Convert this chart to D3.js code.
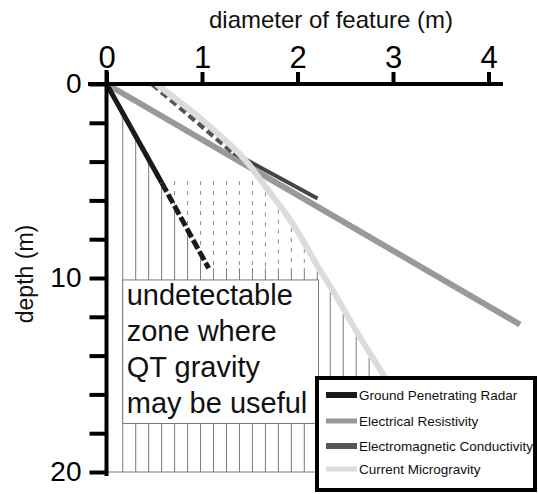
<!DOCTYPE html>
<html>
<head>
<meta charset="utf-8">
<script src="https://cdn.jsdelivr.net/npm/d3@7"></script>
<style>
  html, body { margin: 0; padding: 0; background: #fff; }
  svg { display: block; font-family: "Liberation Sans", Arial, Helvetica, sans-serif; }
</style>
</head>
<body>
<svg id="chart" width="538" height="494"></svg>
<script>
// ---------- data ----------
const xTickValues = [0, 1, 2, 3, 4];
const yTickValues = [0, 2, 4, 6, 8, 10, 12, 14, 16, 18, 20];
const yTickLabels = [0, 10, 20];

const gprSolid  = [[0, 0], [0.58, 5.1]];
const gprDashed = [[0.58, 5.1], [1.07, 9.5]];
const erLine    = [[0, 0], [4.33, 12.4]];
const emDashed  = [[0.48, 0], [1.33, 3.55]];
const emSolid   = [[1.33, 3.55], [2.21, 5.9]];
const mgLine    = [[0.52, 0], [1.0, 1.85], [1.45, 3.9], [1.65, 5.2], [1.85, 6.5], [2.0, 7.6],
                   [2.2, 9.3], [2.4, 10.9], [2.6, 12.6], [2.9, 15.0], [3.1, 16.6]];

const legendLabels = ["Ground Penetrating Radar", "Electrical Resistivity",
                      "Electromagnetic Conductivity", "Current Microgravity"];
const boxLines = ["undetectable", "zone where", "QT gravity", "may be useful"];

// hatch zone (data units)
const hatchStart = 0.17, hatchStep = 0.1358, hatchCount = 20;
const dashZoneTop = 5.0, dashZoneBottom = 9.5, hatchBottom = 20;
const boxX = [0.17, 2.22], boxDepth = [10.1, 17.5];

// ---------- setup ----------
const svg = d3.select("#chart");
const x = d3.scaleLinear().domain([0, 4]).range([106.5, 488.5]);
const y = d3.scaleLinear().domain([0, 20]).range([84, 472]);
const line = d3.line().x(d => x(d[0])).y(d => y(d[1]));
const curve = d3.line().x(d => x(d[0])).y(d => y(d[1])).curve(d3.curveCatmullRom);

function interp(pts, xv) {
  for (let i = 0; i < pts.length - 1; i++) {
    const a = pts[i], b = pts[i + 1];
    if (xv >= a[0] && xv <= b[0]) return a[1] + (xv - a[0]) / (b[0] - a[0]) * (b[1] - a[1]);
  }
  return null;
}
const gprAll = [gprSolid[0], gprSolid[1], gprDashed[1]];
const gprEndX = gprDashed[1][0], gprSolidEndX = gprSolid[1][0];

// ---------- hatch ----------
const hatch = svg.append("g");
const hatchXs = d3.range(hatchCount).map(i => hatchStart + i * hatchStep);
hatchXs.forEach(hx => {
  const segs = []; // [from, to, dashed]
  if (hx <= gprSolidEndX) {
    segs.push([interp(gprAll, hx), hatchBottom, false]);
  } else if (hx <= gprEndX) {
    const g = interp(gprAll, hx);
    segs.push([dashZoneTop, g, true]);
    segs.push([g, hatchBottom, false]);
  } else {
    const top = Math.max(dashZoneTop, interp(mgLine, hx) + 0.3);
    if (top < dashZoneBottom) {
      segs.push([top, dashZoneBottom, true]);
      segs.push([dashZoneBottom, hatchBottom, false]);
    } else {
      segs.push([top, hatchBottom, false]);
    }
  }
  segs.forEach(s => {
    hatch.append("line")
      .attr("x1", x(hx)).attr("x2", x(hx))
      .attr("y1", y(s[0])).attr("y2", y(s[1]))
      .attr("stroke", s[2] ? "#8a8a8a" : "#7a7a7a")
      .attr("stroke-width", 1)
      .attr("stroke-dasharray", s[2] ? "4,6" : null);
  });
});
// bottom line of hatch zone
hatch.append("line")
  .attr("x1", x(0)).attr("x2", x(3.1))
  .attr("y1", y(hatchBottom)).attr("y2", y(hatchBottom))
  .attr("stroke", "#7a7a7a").attr("stroke-width", 1);

// ---------- annotation box ----------
svg.append("rect")
  .attr("x", x(boxX[0])).attr("y", y(boxDepth[0]))
  .attr("width", x(boxX[1]) - x(boxX[0])).attr("height", y(boxDepth[1]) - y(boxDepth[0]))
  .attr("fill", "#fff").attr("stroke", "#7a7a7a").attr("stroke-width", 1);
svg.append("g").selectAll("text").data(boxLines).join("text")
  .attr("x", x(boxX[0]) + 4)
  .attr("y", (d, i) => y(boxDepth[0]) + 25 + i * 36)
  .attr("font-size", 29).attr("fill", "#111")
  .text(d => d);

// ---------- data lines ----------
svg.append("path").attr("d", line(erLine))
  .attr("fill", "none").attr("stroke", "#999").attr("stroke-width", 6);
svg.append("path").attr("d", line(emDashed))
  .attr("fill", "none").attr("stroke", "#555").attr("stroke-width", 5)
  .attr("stroke-dasharray", "8,4");
svg.append("path").attr("d", line(emSolid))
  .attr("fill", "none").attr("stroke", "#444").attr("stroke-width", 4);
svg.append("path").attr("d", curve(mgLine))
  .attr("fill", "none").attr("stroke", "#dcdcdc").attr("stroke-width", 6);
svg.append("path").attr("d", line(gprSolid))
  .attr("fill", "none").attr("stroke", "#1a1a1a").attr("stroke-width", 5);
svg.append("path").attr("d", line(gprDashed))
  .attr("fill", "none").attr("stroke", "#1a1a1a").attr("stroke-width", 5)
  .attr("stroke-dasharray", "10,3");

// ---------- axes ----------
const xAxis = d3.axisTop(x).tickValues(xTickValues).tickSize(12).tickSizeOuter(0).tickPadding(4)
  .tickFormat(d3.format("d"));
const gx = svg.append("g").attr("transform", `translate(0,${y(0)})`).call(xAxis);
gx.select(".domain").remove();
gx.selectAll(".tick line").attr("stroke", "#000").attr("stroke-width", 4);
gx.selectAll(".tick text").attr("font-size", 31).attr("fill", "#000")
  .attr("font-family", "Liberation Sans, Arial, sans-serif");
svg.append("line").attr("x1", 88).attr("x2", 503).attr("y1", y(0)).attr("y2", y(0))
  .attr("stroke", "#000").attr("stroke-width", 4);

const yAxis = d3.axisLeft(y).tickValues(yTickValues).tickSize(17).tickSizeOuter(0).tickPadding(8)
  .tickFormat(d => yTickLabels.includes(d) ? d3.format("d")(d) : "");
const gy = svg.append("g").attr("transform", `translate(${x(0)},0)`).call(yAxis);
gy.select(".domain").remove();
gy.selectAll(".tick line").attr("stroke", "#000").attr("stroke-width", 4);
gy.selectAll(".tick text").attr("font-size", 28).attr("fill", "#000")
  .attr("font-family", "Liberation Sans, Arial, sans-serif");
svg.append("line").attr("x1", x(0)).attr("x2", x(0)).attr("y1", y(0) - 14).attr("y2", 476)
  .attr("stroke", "#000").attr("stroke-width", 4);

svg.append("text").attr("x", 331).attr("y", 28).attr("text-anchor", "middle")
  .attr("font-size", 24).attr("fill", "#111").text("diameter of feature (m)");
svg.append("text").attr("transform", "translate(33,274) rotate(-90)")
  .attr("text-anchor", "middle").attr("font-size", 23).attr("fill", "#111").text("depth (m)");

// ---------- legend ----------
const legendColors = ["#1a1a1a", "#999", "#555", "#dcdcdc"];
const legendWidths = [6, 5, 6, 5];
const lg = svg.append("g");
lg.append("rect").attr("x", 317).attr("y", 378).attr("width", 218).attr("height", 112)
  .attr("fill", "#fff").attr("stroke", "#000").attr("stroke-width", 4);
const rowsY = [395, 421, 446, 469];
legendLabels.forEach((lab, i) => {
  lg.append("line").attr("x1", 326).attr("x2", 357).attr("y1", rowsY[i]).attr("y2", rowsY[i])
    .attr("stroke", legendColors[i]).attr("stroke-width", legendWidths[i]);
  lg.append("text").attr("x", 359).attr("y", rowsY[i] + 5).attr("font-size", 13.5)
    .attr("fill", "#111").text(lab);
});
</script>
</body>
</html>
